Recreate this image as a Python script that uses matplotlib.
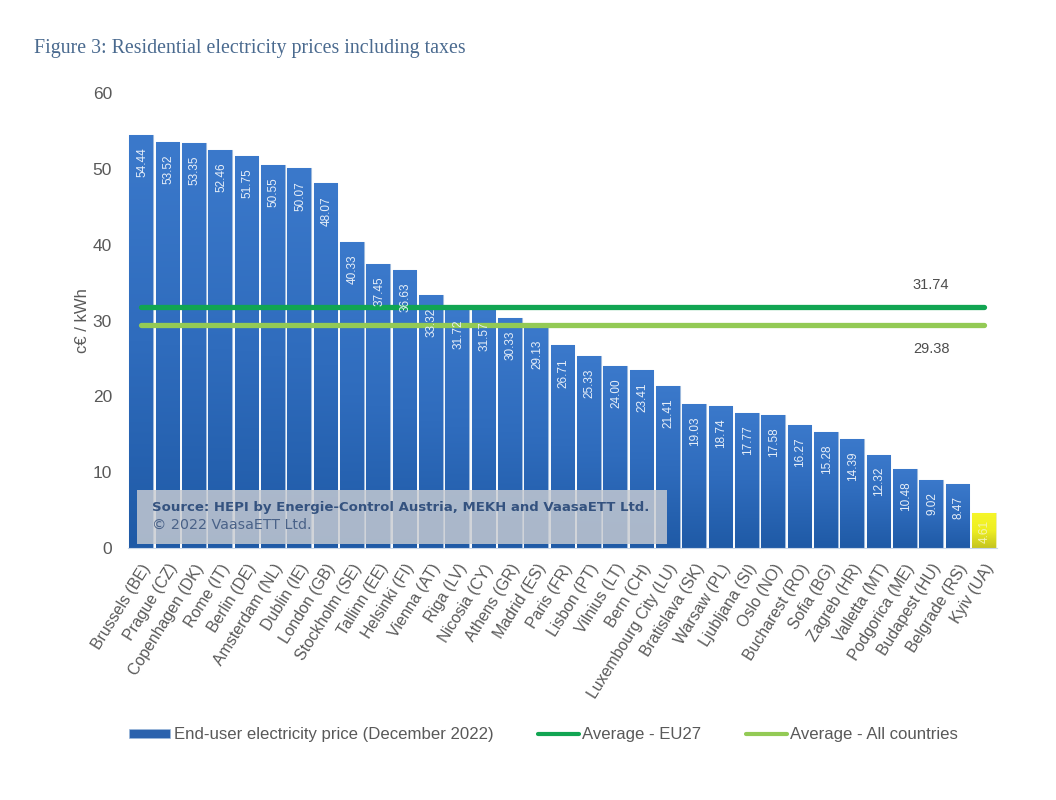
#!/usr/bin/env python
# -*- coding: utf-8 -*-

import numpy as np
import matplotlib
matplotlib.use('Agg')
import matplotlib.pyplot as plt
from matplotlib.colors import LinearSegmentedColormap
from matplotlib.patches import Rectangle, Patch
from matplotlib.lines import Line2D

plt.rcParams['font.family'] = ['Liberation Sans', 'DejaVu Sans']

cities = ['Brussels (BE)', 'Prague (CZ)', 'Copenhagen (DK)', 'Rome (IT)', 'Berlin (DE)',
          'Amsterdam (NL)', 'Dublin (IE)', 'London (GB)', 'Stockholm (SE)', 'Tallinn (EE)',
          'Helsinki (FI)', 'Vienna (AT)', 'Riga (LV)', 'Nicosia (CY)', 'Athens (GR)',
          'Madrid (ES)', 'Paris (FR)', 'Lisbon (PT)', 'Vilnius (LT)', 'Bern (CH)',
          'Luxembourg City (LU)', 'Bratislava (SK)', 'Warsaw (PL)', 'Ljubljana (SI)',
          'Oslo (NO)', 'Bucharest (RO)', 'Sofia (BG)', 'Zagreb (HR)', 'Valletta (MT)',
          'Podgorica (ME)', 'Budapest (HU)', 'Belgrade (RS)', 'Kyiv (UA)']
prices = [54.44, 53.52, 53.35, 52.46, 51.75, 50.55, 50.07, 48.07, 40.33, 37.45, 36.63,
          33.32, 31.72, 31.57, 30.33, 29.13, 26.71, 25.33, 24.00, 23.41, 21.41, 19.03,
          18.74, 17.77, 17.58, 16.27, 15.28, 14.39, 12.32, 10.48, 9.02, 8.47, 4.61]
avg_eu27 = 31.74
avg_all = 29.38

W, H = 1056, 800
fig = plt.figure(figsize=(W / 100, H / 100), dpi=100)
# axes box in pixels: x 128-997, y 93-548
ax = fig.add_axes([128 / W, 1 - 548 / H, 869 / W, 455 / H])

x = np.arange(len(cities))
bars = ax.bar(x, prices, width=0.9, color='#2b62ad', edgecolor='#9db9dc', linewidth=0.8, zorder=2)
bars[-1].set_edgecolor('#eeeeb0')

blue = LinearSegmentedColormap.from_list('blue', ['#3b79cb', '#2f6cbd', '#1f5aa6'])
yellow = LinearSegmentedColormap.from_list('yellow', ['#f6f62a', '#eeee22', '#c4c420'])
grad = np.linspace(0, 1, 256).reshape(-1, 1)
for b in bars:
    cm = yellow if b is bars[-1] else blue
    im = ax.imshow(grad, cmap=cm, aspect='auto', zorder=2.1,
                   extent=[b.get_x(), b.get_x() + b.get_width(), 0, b.get_height()])
    im.set_clip_path(b)

# value labels inside the bars
for xi, p in zip(x, prices):
    col = '#f3f3b0' if xi == len(x) - 1 else '#e6eef8'
    offset = -5 if xi == len(x) - 1 else -9
    ax.annotate('%.2f' % p, (xi, p), xytext=(0.7, offset), textcoords='offset points',
                rotation=90, ha='center', va='top', fontsize=8.5, color=col, zorder=5)

ax.plot([x[0], x[-1]], [avg_eu27, avg_eu27], color='#11a552', lw=3.8,
        solid_capstyle='round', zorder=4)
ax.plot([x[0], x[-1]], [avg_all, avg_all], color='#93ca55', lw=3.8,
        solid_capstyle='round', zorder=4)
ax.text(30.0, avg_eu27 + 2.9, '31.74', ha='center', va='center', fontsize=10.5, color='#4d4d4d')
ax.text(30.0, avg_all - 3.15, '29.38', ha='center', va='center', fontsize=10.5, color='#4d4d4d')

# source box over the bars
fig.add_artist(Rectangle((137 / W, 1 - 544 / H), 530 / W, 54 / H, transform=fig.transFigure,
                         facecolor='#c9ccd2', alpha=0.82, edgecolor='none', zorder=6))
fig.text(152 / W, 1 - 508 / H, 'Source: HEPI by Energie-Control Austria, MEKH and VaasaETT Ltd.',
         fontsize=9.5, fontweight='bold', color='#34527f', va='center', zorder=7,
         family=['DejaVu Sans'])
fig.text(152 / W, 1 - 525 / H, '© 2022 VaasaETT Ltd.', fontsize=10.3, color='#4a6288',
         va='center', zorder=7, family=['DejaVu Sans'])

ax.set_xlim(-0.5, len(cities) - 0.5)
ax.set_ylim(0, 60)
ax.set_yticks(range(0, 61, 10))
ax.set_xticks(x)
ax.set_xticklabels(cities, rotation=58, ha='right', rotation_mode='anchor', fontsize=11.4,
                   color='#595959')
ax.tick_params(axis='x', length=0, pad=9.5)
ax.tick_params(axis='y', length=0, pad=11.5, labelsize=12.5, labelcolor='#595959')
ax.set_ylabel('c€ / kWh', fontsize=12, color='#595959')
ax.yaxis.set_label_coords(-38 / 869, 0.5)
for s in ['top', 'right', 'left']:
    ax.spines[s].set_visible(False)
ax.spines['bottom'].set_color('#c8d6e8')

fig.text(34 / W, 1 - 49 / H, 'Figure 3: Residential electricity prices including taxes',
         fontsize=14.3, color='#4a6a8f', va='center', family=['Liberation Serif'])

handles = [Patch(facecolor='#2b62ad', edgecolor='#9db9dc', linewidth=0.5),
           Line2D([], [], color='#11a552', lw=3, solid_capstyle='round'),
           Line2D([], [], color='#93ca55', lw=3, solid_capstyle='round')]
labels = ['End-user electricity price (December 2022)', 'Average - EU27', 'Average - All countries']
fig.legend(handles, labels, ncol=3, frameon=False, fontsize=12.1, labelcolor='#595959',
           loc='center left', bbox_to_anchor=(129 / W, 1 - 735 / H), borderaxespad=0, borderpad=0,
           handlelength=2.45, handleheight=0.45, handletextpad=0.2, columnspacing=2.65)

plt.savefig('out.png', dpi=100)
